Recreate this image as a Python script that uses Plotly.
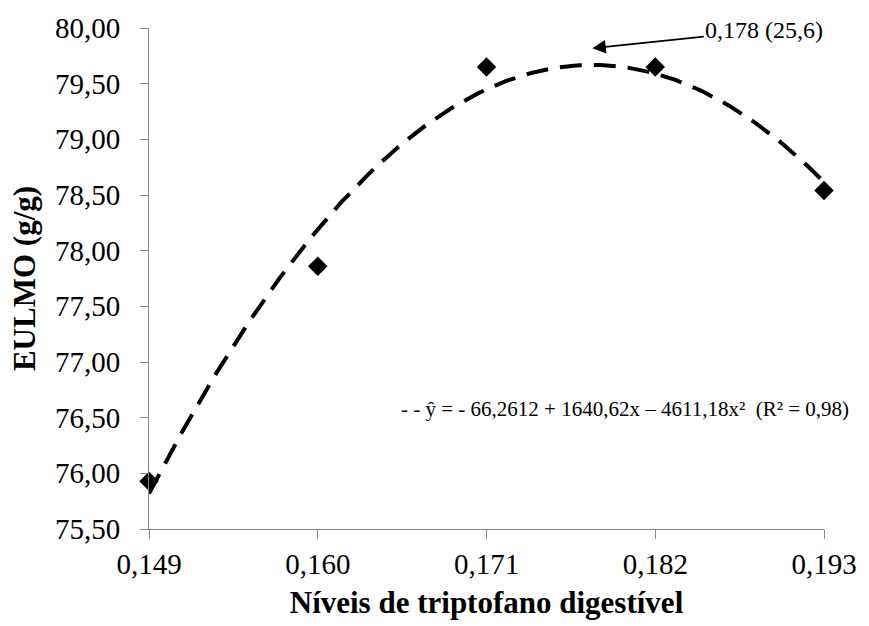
import numpy as np
import plotly.graph_objects as go

# Observed means
levels = [0.149, 0.160, 0.171, 0.182, 0.193]
eulmo = [75.93, 77.86, 79.65, 79.65, 78.54]

# Quadratic fit coefficients: y = b0 + b1*x + b2*x^2
b0, b1, b2 = -66.2612, 1640.62, -4611.18
optimum_label = "0,178 (25,6)"
equation_label = "- - ŷ = - 66,2612 + 1640,62x – 4611,18x²  (R² = 0,98)"

x_ticks = levels
y_ticks = [75.5, 76.0, 76.5, 77.0, 77.5, 78.0, 78.5, 79.0, 79.5, 80.0]

xf = np.linspace(levels[0], levels[-1], 200)
yf = b0 + b1 * xf + b2 * xf ** 2
x_opt = -b1 / (2 * b2)
y_opt = b0 + b1 * x_opt + b2 * x_opt ** 2

font_family = "Liberation Serif"
axis_color = "#868686"

fig = go.Figure()
fig.add_trace(go.Scatter(
    x=xf, y=yf, mode="lines",
    line=dict(color="black", width=4, dash="22px,12px"),
    showlegend=False, hoverinfo="skip", cliponaxis=False,
))
fig.add_trace(go.Scatter(
    x=levels, y=eulmo, mode="markers",
    marker=dict(symbol="diamond", size=15, color="black"),
    showlegend=False, cliponaxis=False,
))

fig.add_annotation(
    x=x_opt, y=y_opt + 0.15, xref="x", yref="y",
    text=optimum_label, showarrow=True,
    ax=172, ay=-18, axref="pixel", ayref="pixel",
    arrowhead=2, arrowsize=1.5, arrowwidth=1.8, arrowcolor="black",
    font=dict(family=font_family, size=24, color="black"),
)
fig.add_annotation(
    x=0.18, y=76.58, xref="x", yref="y",
    text=equation_label, showarrow=False, xanchor="center",
    font=dict(family=font_family, size=21, color="black"),
)

fig.update_layout(
    width=869, height=626,
    margin=dict(l=149, r=34, t=26, b=97),
    paper_bgcolor="white", plot_bgcolor="white",
    separators=",.",
    font=dict(family=font_family, color="black"),
    xaxis=dict(
        range=[levels[0], levels[-1]],
        tickvals=x_ticks, tickformat=".3f",
        showgrid=False, zeroline=False,
        showline=True, linecolor=axis_color, linewidth=1,
        ticks="outside", ticklen=9, tickcolor=axis_color,
        tickfont=dict(size=29, family=font_family),
        title=dict(text="<b>Níveis de triptofano digestível</b>",
                   font=dict(size=31, family=font_family), standoff=12),
    ),
    yaxis=dict(
        range=[75.5, 80.0],
        tickvals=y_ticks, tickformat=".2f",
        showgrid=False, zeroline=False,
        showline=True, linecolor=axis_color, linewidth=1,
        ticks="outside", ticklen=8, tickcolor=axis_color,
        ticklabelstandoff=14,
        tickfont=dict(size=29, family=font_family),
        title=dict(text="<b>EULMO (g/g)</b>",
                   font=dict(size=31, family=font_family), standoff=10),
    ),
)

fig.write_html("out.html")
